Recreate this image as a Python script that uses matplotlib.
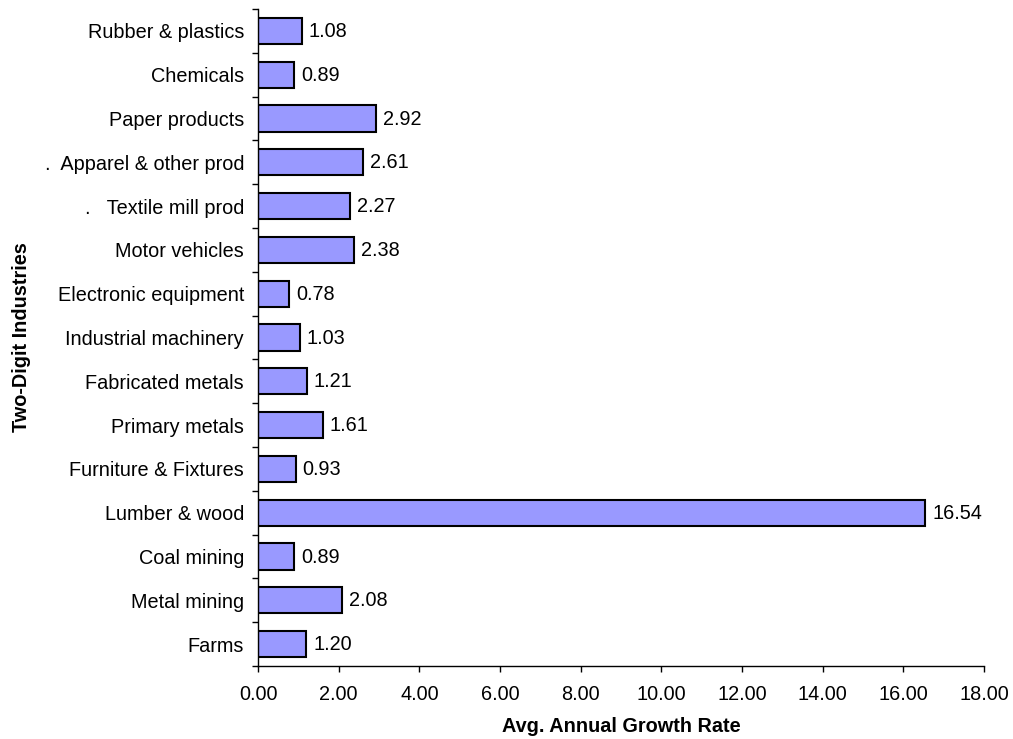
import numpy as np
import matplotlib.pyplot as plt

plt.rcParams["font.family"] = ["Liberation Sans", "DejaVu Sans"]

# Bottom to top
industries = ["Farms", "Metal mining", "Coal mining", "Lumber & wood",
              "Furniture & Fixtures", "Primary metals", "Fabricated metals",
              "Industrial machinery", "Electronic equipment", "Motor vehicles",
              ".   Textile mill prod", ".  Apparel & other prod",
              "Paper products", "Chemicals", "Rubber & plastics"]
growth = [1.20, 2.08, 0.89, 16.54, 0.93, 1.61, 1.21, 1.03, 0.78, 2.38,
          2.27, 2.61, 2.92, 0.89, 1.08]
x_ticks = np.arange(0, 20, 2)

fs = 14.3

fig = plt.figure(figsize=(10.13, 7.39), dpi=100)
ax = fig.add_axes([258 / 1013, 73 / 739, 726 / 1013, 657 / 739])

ypos = np.arange(len(industries))
ax.barh(ypos, growth, height=0.6, color="#9999FF", edgecolor="black", linewidth=1.5)

for y, v in zip(ypos, growth):
    ax.annotate(f"{v:.2f}", (v, y), xytext=(5, -0.5), textcoords="offset points",
                va="center", ha="left", fontsize=fs)

ax.set_xlim(0, 18)
ax.set_ylim(-0.5, len(industries) - 0.5)
ax.set_xticks(x_ticks)
ax.set_xticklabels([f"{t:.2f}" for t in x_ticks], fontsize=fs)
ax.set_yticks(ypos)
ax.set_yticklabels(industries, fontsize=fs)
ax.set_yticks(np.arange(-0.5, len(industries), 1), minor=True)
ax.tick_params(axis="y", which="major", length=0, pad=10)
ax.tick_params(axis="y", which="minor", length=4, width=1)
ax.tick_params(axis="x", length=4, width=1, pad=10)

for s in ["top", "right"]:
    ax.spines[s].set_visible(False)
for s in ["left", "bottom"]:
    ax.spines[s].set_linewidth(1)

ax.set_xlabel("Avg. Annual Growth Rate", fontsize=fs, fontweight="bold", labelpad=9)
ax.set_ylabel("Two-Digit Industries", fontsize=fs, fontweight="bold", labelpad=10)

plt.savefig("out.png", dpi=100)
